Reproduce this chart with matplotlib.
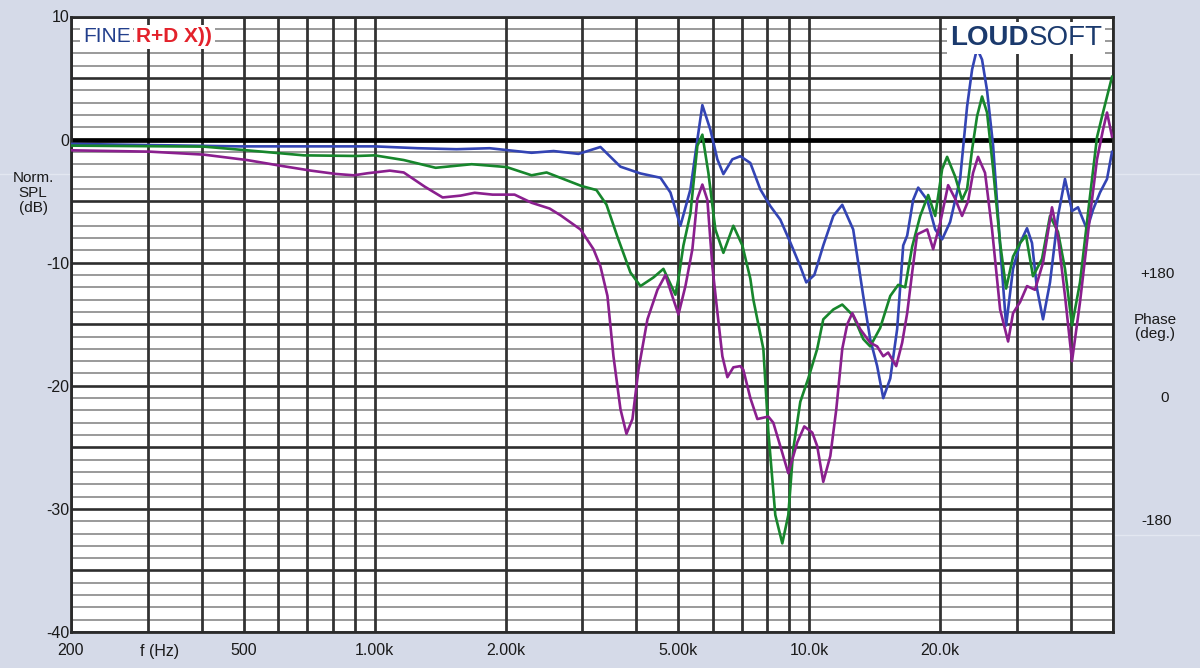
import matplotlib
matplotlib.use("Agg")
import matplotlib.pyplot as plt
from matplotlib.ticker import LogLocator, MultipleLocator, FixedLocator, FuncFormatter, NullFormatter
from matplotlib.lines import Line2D

plt.rcParams['font.family'] = ['Liberation Sans', 'DejaVu Sans']

# ---------------- data ----------------
blue_f = [200, 489, 1000, 1256, 1543, 1838, 2296, 2580, 2944, 3307, 3677, 4088, 4545, 4792, 5052,
          5327, 5527, 5675, 5921, 6144, 6344, 6653, 6940, 7318, 7717, 8135, 8577, 9043, 9535, 9843,
          10270, 10770, 11360, 11910, 12620, 13310, 13810, 14330, 14800, 15360, 15930, 16450, 16800,
          17340, 17810, 18680, 19490, 20220, 21090, 22240, 23080, 23700, 24330, 24980, 25650, 26490,
          27490, 28380, 29440, 30560, 31700, 32550, 33420, 34510, 35810, 37360, 38770, 40240, 41540,
          43570, 44980, 46670, 48440, 49740]
blue_db = [-0.35, -0.55, -0.55, -0.7, -0.78, -0.7, -1.07, -0.93, -1.16, -0.6, -2.2, -2.75, -3.1, -4.3, -7.0,
           -4.05, 0.0, 2.8, 0.8, -1.6, -2.8, -1.6, -1.35, -1.9, -4.05, -5.4, -6.5, -8.35, -10.3, -11.6,
           -11.0, -8.6, -6.2, -5.3, -7.3, -12.7, -16.2, -18.4, -21.0, -19.4, -15.4, -8.6, -7.8,
           -4.9, -3.9, -4.9, -7.3, -8.1, -6.7, -3.2, 2.7, 5.7, 7.4, 6.5, 4.0, -0.5,
           -8.6, -15.1, -10.5, -8.4, -7.2, -8.4, -12.1, -14.6, -11.6, -6.2, -3.2, -5.8, -5.5,
           -7.3, -5.7, -4.3, -3.2, -1.0]

green_f = [200, 404, 508, 687, 909, 1000, 1166, 1381, 1671, 2011, 2296, 2486, 2991, 3238, 3414, 3619,
           3877, 4088, 4379, 4617, 4920, 5000, 5133, 5327, 5527, 5675, 5859, 6080, 6344, 6688, 7015,
           7318, 7435, 7840, 8049, 8353, 8668, 8948, 9190, 9535, 9947, 10430, 10770, 11360, 11910,
           12620, 13310, 13810, 14560, 15360, 16020, 16620, 17250, 18000, 18780, 19490, 20220, 20760,
           21660, 22470, 23080, 23700, 24330, 24980, 25650, 26490, 27490, 28380, 29440, 30560, 31540,
           32720, 34320, 35810, 37360, 38770, 40240, 41980, 44260, 45940, 47420, 49740]
green_db = [-0.49, -0.57, -0.87, -1.28, -1.33, -1.28, -1.66, -2.29, -2.0, -2.23, -2.9, -2.67, -3.77, -4.1,
            -5.28, -7.9, -10.8, -11.9, -11.2, -10.5, -12.6, -11.3, -8.6, -6.0, -0.5, 0.4, -2.7, -7.3,
            -9.2, -7.0, -8.6, -11.3, -13.0, -17.0, -23.7, -30.5, -32.8, -30.5, -25.1, -21.3, -19.4,
            -17.0, -14.6, -13.8, -13.4, -14.3, -16.2, -16.8, -15.3, -12.7, -11.8, -12.0, -8.7, -6.2,
            -4.5, -6.2, -2.4, -1.4, -3.0, -4.9, -4.0, -0.8, 1.9, 3.5, 2.2, -2.4, -8.4, -12.1, -9.5,
            -8.4, -7.8, -11.1, -9.7, -6.2, -7.5, -10.5, -15.1, -11.6, -4.6, 0.2, 2.2, 5.1]

purple_f = [200, 304, 404, 508, 611, 713, 814, 895, 964, 1083, 1166, 1303, 1433, 1577, 1698, 1867,
            2098, 2296, 2526, 2677, 2975, 3187, 3307, 3432, 3543, 3677, 3796, 3918, 4045, 4242, 4473,
            4667, 4869, 5000, 5188, 5383, 5527, 5675, 5828, 5984, 6144, 6310, 6480, 6688, 6940, 7051,
            7318, 7595, 8049, 8265, 8577, 8948, 9384, 9739, 10160, 10430, 10770, 11180, 11540, 11910,
            12230, 12560, 13100, 13810, 14330, 14800, 15190, 15850, 16360, 16800, 17250, 17710, 18680,
            19280, 20000, 20870, 21660, 22470, 23200, 23820, 24460, 25380, 26340, 27490, 28680, 29440,
            30560, 31700, 33070, 34510, 36190, 37360, 38770, 40240, 41980, 44260, 45940, 47420, 48440,
            49740]
purple_db = [-0.87, -0.98, -1.22, -1.66, -2.14, -2.52, -2.79, -2.9, -2.73, -2.52, -2.67, -3.82, -4.7,
             -4.55, -4.32, -4.47, -4.47, -5.13, -5.6, -6.15, -7.3, -8.9, -10.3, -12.7, -17.6, -21.9,
             -23.9, -22.7, -18.7, -14.6, -12.2, -11.0, -13.0, -14.2, -11.9, -8.9, -4.8, -3.65, -4.9,
             -10.3, -14.0, -17.6, -19.3, -18.5, -18.4, -18.7, -21.0, -22.7, -22.5, -23.0, -24.9, -27.1,
             -24.6, -23.3, -23.8, -24.9, -27.8, -25.7, -21.9, -17.0, -15.0, -14.1, -15.4, -16.5, -16.8,
             -17.6, -17.3, -18.4, -16.5, -14.1, -10.8, -7.7, -7.3, -8.9, -6.8, -3.7, -4.8, -6.2, -5.0,
             -2.7, -1.4, -2.7, -7.3, -13.8, -16.4, -14.1, -13.2, -11.9, -12.2, -10.0, -5.5, -7.9, -12.7,
             -18.0, -13.2, -6.2, -1.6, 0.8, 2.2, 0.25]

x_tick_values = [200, 500, 1000, 2000, 5000, 10000, 20000]
x_tick_labels = ['200', '500', '1.00k', '2.00k', '5.00k', '10.0k', '20.0k']
x_axis_title = 'f (Hz)'
x_axis_title_at = 320
y_label_values = [10, 0, -10, -20, -30, -40]
phase_labels = ['+180', '0', '-180']
phase_label_db = [-10.9, -21.0, -31.0]

# ---------------- figure ----------------
BG = '#d5dae8'
W, H = 1200, 668
fig = plt.figure(figsize=(W / 100, H / 100), dpi=100)
fig.patch.set_facecolor(BG)

# faint scan lines in the background
fig.add_artist(Line2D([0, 1], [1 - 174 / H] * 2, color='#e3e7f1', lw=1.0, transform=fig.transFigure, zorder=0))
fig.add_artist(Line2D([1113 / W, 1], [1 - 535 / H] * 2, color='#e3e7f1', lw=1.0, transform=fig.transFigure, zorder=0))

L, R, T, B = 71, 1113, 16.5, 632
ax = fig.add_axes([L / W, 1 - B / H, (R - L) / W, (B - T) / H])
ax.set_facecolor('white')
ax.set_xscale('log')
ax.set_xlim(200, 50000)
ax.set_ylim(-40, 10)

# x axis: vertical grid at every 1..9 x decade, labels at chosen values
ax.xaxis.set_major_locator(FixedLocator(x_tick_values))
ax.xaxis.set_major_formatter(FuncFormatter(lambda v, p: x_tick_labels[x_tick_values.index(v)] if v in x_tick_values else ''))
ax.xaxis.set_minor_locator(LogLocator(base=10, subs=list(range(1, 10)), numticks=50))
ax.xaxis.set_minor_formatter(NullFormatter())
ax.tick_params(axis='x', which='both', length=0, pad=8, labelsize=11.5, colors='#1a1a1a')
ax.grid(True, axis='x', which='both', color='#333333', lw=2.0)
ax.text(x_axis_title_at, -40, x_axis_title, transform=ax.transData, ha='center', va='top',
        fontsize=11.5, color='#1a1a1a')
ax.texts[-1].set_y(-41.0)

# y axis: 1 dB light lines, 5 dB dark lines, labels each 10 dB
ax.yaxis.set_major_locator(MultipleLocator(5))
ax.yaxis.set_minor_locator(MultipleLocator(1))
ax.yaxis.set_major_formatter(FuncFormatter(lambda v, p: f'{int(round(v))}' if int(round(v)) in y_label_values else ''))
ax.tick_params(axis='y', which='both', length=0, pad=1, labelsize=11.5, colors='#1a1a1a')
ax.grid(True, axis='y', which='minor', color='#9a9a9a', lw=1.4)
ax.grid(True, axis='y', which='major', color='#2e2e2e', lw=1.9)
ax.xaxis.set_zorder(0.6)
ax.yaxis.set_zorder(0.5)
ax.axhline(0, color='black', lw=3.4, zorder=1)

for s in ax.spines.values():
    s.set_color('#2a2a2a')
    s.set_linewidth(2.0)

# curves
ax.plot(blue_f, blue_db, color='#3344b4', lw=1.9, zorder=3, solid_joinstyle='round')
ax.plot(green_f, green_db, color='#17862c', lw=1.9, zorder=3, solid_joinstyle='round')
ax.plot(purple_f, purple_db, color='#8a1f8e', lw=1.9, zorder=3, solid_joinstyle='round')

# axis titles
fig.text(33 / W, 1 - 193 / H, 'Norm.\nSPL\n(dB)', ha='center', va='center', fontsize=11,
         color='#1a1a1a', linespacing=1.05)
for lab, db, xc in zip(phase_labels, phase_label_db, [1157, 1165, 1157]):
    ax.text(1 + (xc - R) / (R - L), db, lab, transform=ax.get_yaxis_transform(), ha='center',
            va='center', fontsize=11, color='#1a1a1a', clip_on=False)
fig.text(1155 / W, 1 - 327 / H, 'Phase\n(deg.)', ha='center', va='center', fontsize=11,
         color='#1a1a1a', linespacing=1.0)

# logos
fine = fig.text(83 / W, 1 - 37 / H, 'FINE', ha='left', va='center', fontsize=15, color='#223f8c',
                bbox=dict(facecolor='white', edgecolor='none', pad=2), zorder=5)
ax.annotate('R+D X))', xy=(1, 0.5), xycoords=fine, xytext=(4, 0), textcoords='offset points',
            ha='left', va='center', fontsize=15, fontweight='bold', color='#e3222b',
            bbox=dict(facecolor='white', edgecolor='none', pad=2), zorder=5, annotation_clip=False)
loud = fig.text(950 / W, 1 - 38 / H, 'LOUD', ha='left', va='center', fontsize=20, fontweight='bold',
                color='#1b3a6d', bbox=dict(facecolor='white', edgecolor='none', pad=2), zorder=5)
ax.annotate('SOFT', xy=(1, 0.5), xycoords=loud, xytext=(0, 0), textcoords='offset points',
            ha='left', va='center', fontsize=20, color='#1b3a6d',
            bbox=dict(facecolor='white', edgecolor='none', pad=2), zorder=5, annotation_clip=False)

fig.savefig('out.png', dpi=100, facecolor=BG)
